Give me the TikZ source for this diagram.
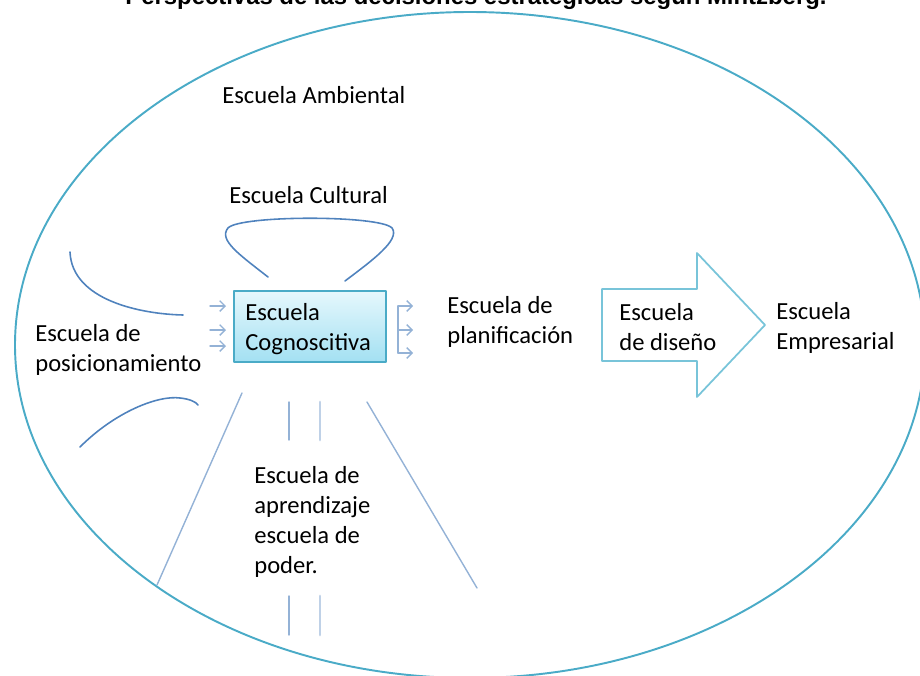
\documentclass[tikz,border=0pt]{standalone}
\usepackage{fontspec}
\usetikzlibrary{arrows.meta}
\setmainfont{Carlito}
\newfontfamily\titlefont{Liberation Sans}
\definecolor{ttccdd}{rgb}{0.29,0.67,0.78}
\definecolor{qqttcc}{rgb}{0.31,0.51,0.74}
\definecolor{ccttdd}{rgb}{0.58,0.70,0.84}
\definecolor{cceeff}{rgb}{0.47,0.77,0.85}
\definecolor{eeffff}{rgb}{0.90,0.97,0.99}
\definecolor{aaeeff}{rgb}{0.64,0.88,0.95}
\begin{document}
\begin{tikzpicture}[x=0.02cm,y=-0.02cm,line cap=round,line join=round,
	txt/.style={anchor=base west,inner sep=0pt,align=left,font=\fontsize{14}{17}\selectfont},
	curva/.style={color=qqttcc,line width=0.9pt},
	recta/.style={color=ccttdd,line width=0.8pt},
	flecha/.style={-{Straight Barb[length=3pt,width=6pt]},color=ccttdd,line width=0.8pt}]
	\useasboundingbox (0,0) rectangle (920,676);
	\clip (0,0) rectangle (920,676);
	% titulo (cortado arriba)
	\node[anchor=base,inner sep=0pt,font=\titlefont\bfseries\fontsize{13.6}{16}\selectfont] (titulo) at (476,5) {Perspectivas de las decisiones estrat\'egicas seg\'un Mintzberg.};
	% elipse ambiental
	\draw [color=ttccdd,line width=1.1pt] (470,345) ellipse (455 and 333);
	\node[txt] (ambiental) at (222,103) {Escuela Ambiental};
	% cultural
	\node[txt] (cultural) at (229,203) {Escuela Cultural};
	\draw [curva] (268,277) .. controls (240,255) and (218,240) .. (228,228) .. controls (240,215) and (380,215) .. (392,228) .. controls (401,240) and (370,262) .. (345,281);
	% cognoscitiva (base = ultima linea)
	\node[draw=ttccdd,line width=1pt,top color=eeffff,bottom color=aaeeff,minimum width=152*0.02cm,minimum height=71*0.02cm,anchor=north west,inner sep=0pt] (cog) at (233,290) {};
	\node[txt] (cogtxt) at (245,350) {Escuela\\Cognoscitiva};
	\foreach \y in {306,330,346}
		\draw [flecha] (210,\y) -- (226,\y);
	\draw [flecha,-] (398,306) -- (398,353);
	\foreach \y in {306,330,353}
		\draw [flecha] (398,\y) -- (413,\y);
	% planificacion
	\node[txt] (planif) at (447,343) {Escuela de\\planificaci\'on};
	% diseno
	\draw [color=cceeff,line width=1pt] (602,289) -- (697,289) -- (697,253) -- (765,325) -- (697,397) -- (697,361) -- (602,361) -- cycle;
	\node[txt] (diseno) at (619,350) {Escuela\\de dise\~no};
	% empresarial
	\node[txt] (empresa) at (776,349) {Escuela\\Empresarial};
	% posicionamiento
	\node[txt] (posic) at (35,371) {Escuela de\\posicionamiento};
	\draw [curva] (70,252) .. controls (72,300) and (140,314) .. (183,315);
	\draw [curva] (80,447) .. controls (115,412) and (158,395) .. (180,398) .. controls (190,399) and (196,402) .. (198,405);
	% aprendizaje y poder
	\draw [recta] (242,393) -- (157,585);
	\draw [recta] (367,402) -- (477,588);
	\draw [recta] (289,402) -- (289,440);
	\draw [recta,line width=1.6pt,color=ccttdd!60] (320,402) -- (320,440);
	\draw [recta] (289,596) -- (289,635);
	\draw [recta,line width=1.6pt,color=ccttdd!60] (320,596) -- (320,635);
	\node[txt] (aprend) at (254,573) {Escuela de\\aprendizaje\\escuela de\\poder.};
\end{tikzpicture}
\end{document}
